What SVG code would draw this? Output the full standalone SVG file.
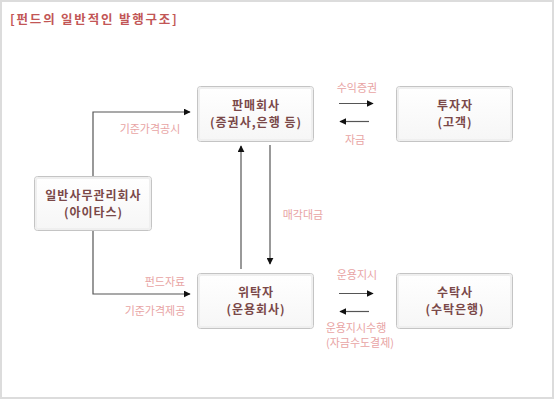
<svg xmlns="http://www.w3.org/2000/svg" width="555" height="400" viewBox="0 0 555 400">
<style>
.box{fill:url(#bg);stroke:#c4c4c4;stroke-width:1}
.inner{fill:none;stroke:#efefef;stroke-width:2}
.nt{font-family:"Noto Sans CJK KR","Noto Sans",sans-serif;font-size:12px;font-weight:bold;fill:#7a4848;text-anchor:middle;letter-spacing:1px}
.lb{font-family:"Noto Sans CJK KR","Noto Sans",sans-serif;font-size:11px;fill:#e8a4a4;text-anchor:middle}
.ln{fill:none;stroke:#555;stroke-width:1.2}
.title{font-family:"Noto Sans CJK KR","Noto Sans",sans-serif;font-size:12.5px;font-weight:bold;fill:#c25656;letter-spacing:1.8px}
</style>
<defs>
<linearGradient id="bg" x1="0" y1="0" x2="0" y2="1">
<stop offset="0" stop-color="#ffffff"/>
<stop offset="1" stop-color="#f6f6f6"/>
</linearGradient>
<marker id="ah" viewBox="0 0 10 10" refX="9" refY="5" markerWidth="7" markerHeight="7" markerUnits="userSpaceOnUse" orient="auto">
<path d="M0,0 L10,5 L0,10 z" fill="#111"/>
</marker>
</defs>
<rect x="1" y="1" width="552" height="397" fill="#fff" stroke="#dcdcdc" stroke-width="2"/>
<text class="title" x="10" y="24">[펀드의 일반적인 발행구조]</text>

<g id="connectors">
<polyline class="ln" points="93,176 93,112 190,112" marker-end="url(#ah)"/>
<polyline class="ln" points="93,230 93,294 190,294" marker-end="url(#ah)"/>
<line class="ln" x1="241" y1="269" x2="241" y2="146" marker-end="url(#ah)"/>
<line class="ln" x1="270" y1="145" x2="270" y2="264" marker-end="url(#ah)"/>
<line class="ln" x1="339" y1="103.5" x2="373" y2="103.5" marker-end="url(#ah)"/>
<line class="ln" x1="369" y1="121.5" x2="340" y2="121.5" marker-end="url(#ah)"/>
<line class="ln" x1="339" y1="293.5" x2="373" y2="293.5" marker-end="url(#ah)"/>
<line class="ln" x1="369" y1="311.5" x2="340" y2="311.5" marker-end="url(#ah)"/>
<text class="lb" x="357" y="92">수익증권</text>
<text class="lb" x="355" y="144">자금</text>
<text class="lb" x="150" y="133">기준가격공시</text>
<text class="lb" x="165" y="286">펀드자료</text>
<text class="lb" x="155" y="315">기준가격제공</text>
<text class="lb" x="303" y="219">매각대금</text>
<text class="lb" x="357" y="279">운용지시</text>
<text class="lb" x="356" y="332">운용지시수행</text>
<text class="lb" x="360" y="347">(자금수도결제)</text>
</g>

<g id="n-sales">
<rect class="box" x="197.5" y="86.5" width="116" height="55" rx="3"/>
<rect class="inner" x="199" y="88" width="113" height="52" rx="2"/>
<text class="nt" x="256" y="110">판매회사</text>
<text class="nt" x="256" y="127">(증권사,은행 등)</text>
</g>
<g id="n-investor">
<rect class="box" x="396.5" y="86.5" width="116" height="55" rx="3"/>
<rect class="inner" x="398" y="88" width="113" height="52" rx="2"/>
<text class="nt" x="455" y="110">투자자</text>
<text class="nt" x="455" y="127">(고객)</text>
</g>
<g id="n-admin">
<rect class="box" x="34.5" y="176.5" width="117" height="54" rx="3"/>
<rect class="inner" x="36" y="178" width="114" height="51" rx="2"/>
<text class="nt" x="93.5" y="200">일반사무관리회사</text>
<text class="nt" x="93.5" y="217">(아이타스)</text>
</g>
<g id="n-trustor">
<rect class="box" x="197.5" y="273.5" width="116" height="55" rx="3"/>
<rect class="inner" x="199" y="275" width="113" height="52" rx="2"/>
<text class="nt" x="256" y="297">위탁자</text>
<text class="nt" x="256" y="314">(운용회사)</text>
</g>
<g id="n-trustee">
<rect class="box" x="396.5" y="273.5" width="116" height="55" rx="3"/>
<rect class="inner" x="398" y="275" width="113" height="52" rx="2"/>
<text class="nt" x="455" y="297">수탁사</text>
<text class="nt" x="455" y="314">(수탁은행)</text>
</g>
</svg>
